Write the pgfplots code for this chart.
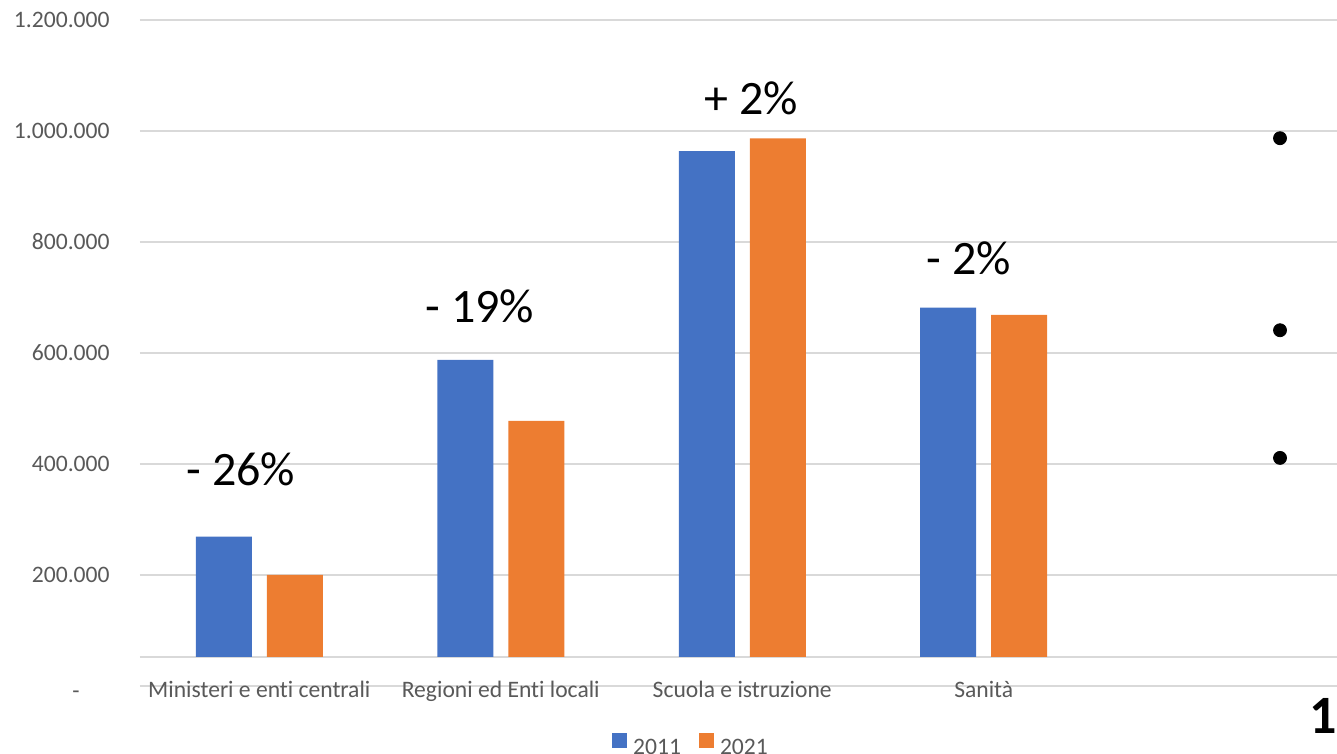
\documentclass[border=0pt]{standalone}
\usepackage{pgfplots}
\pgfplotsset{compat=1.18}
\usepackage{fontspec}
\setmainfont{Carlito}[Ligatures={NoCommon}]
\definecolor{bblue}{HTML}{4472C4}
\definecolor{borange}{HTML}{ED7D31}
\definecolor{gridc}{HTML}{D9D9D9}
\definecolor{lbl}{HTML}{595959}

\begin{document}
\begin{tikzpicture}
\useasboundingbox (-70pt,-34pt) rectangle (598.5pt,343pt);
\begin{axis}[
  at={(0,0)}, anchor=south west,
  scale only axis, width=598.5pt, height=333pt,
  xmin=-0.494, xmax=4.463, ymin=0, ymax=1200000,
  axis line style={draw=none},
  tick style={draw=none}, major tick length=0pt,
  xtick={0,1,2,3},
  xticklabels={Ministeri e enti centrali, Regioni ed Enti locali, Scuola e istruzione, Sanità},
  ytick={0,200000,400000,600000,800000,1000000,1200000},
  yticklabels={{\raisebox{-2.5pt}{-}\hspace*{15pt}},200.000,400.000,600.000,800.000,1.000.000,1.200.000},
  extra y ticks={52250}, extra y tick labels={},
  extra y tick style={grid=major},
  ymajorgrids,
  major grid style={color=gridc, line width=1pt},
  tick label style={font=\fontsize{11.8pt}{14pt}\selectfont, text=lbl},
  yticklabel style={anchor=east, inner sep=0pt, xshift=-15pt, text height=7.5pt, text depth=0pt},
  xticklabel style={anchor=base, inner sep=0pt, yshift=-5.5pt},
  /pgf/number format/assume math mode=true,
  clip=false,
]
\addplot[only marks, mark=*, mark size=3.25pt, black] coordinates {(4.227,987000) (4.227,641000) (4.227,411000)};
\end{axis}
\begin{axis}[
  at={(0,14.5pt)}, anchor=south west,
  scale only axis, width=598.5pt, height=318.5pt,
  xmin=-0.494, xmax=4.463, ymin=52250, ymax=1200000,
  hide axis,
  ybar=7.5pt, bar width=28pt,
  legend style={at={(0.4595,-0.1385)}, anchor=center, draw=none, fill=none,
    inner sep=0pt, legend columns=2,
    font=\fontsize{11.8pt}{14pt}\selectfont, text=lbl,
    nodes={inner sep=0pt},
    /tikz/every odd column/.append style={column sep=3pt},
    /tikz/every even column/.append style={column sep=9pt}},
  legend image code/.code={\fill[#1] (0pt,0pt) rectangle (7.5pt,7.5pt);},
]
\addplot[fill=bblue, draw=none] coordinates {(0,269000) (1,587400) (2,963900) (3,681600)};
\addplot[fill=borange, draw=none] coordinates {(0,200000) (1,477500) (2,986800) (3,668500)};
\legend{2011,2021}
\end{axis}
\begin{scope}[every node/.style={anchor=base, inner sep=0pt, font=\fontsize{24pt}{28pt}\selectfont}]
\node at (50.5pt,100pt) {- 26\%};
\node at (170pt,181.5pt) {- 19\%};
\node at (305.75pt,285.5pt) {+ 2\%};
\node at (414.5pt,205.5pt) {- 2\%};
\end{scope}
\node[anchor=base, inner sep=0pt, font=\fontsize{27pt}{30pt}\selectfont\bfseries] at (591.5pt,-23.5pt) {1};
\end{tikzpicture}
\end{document}
